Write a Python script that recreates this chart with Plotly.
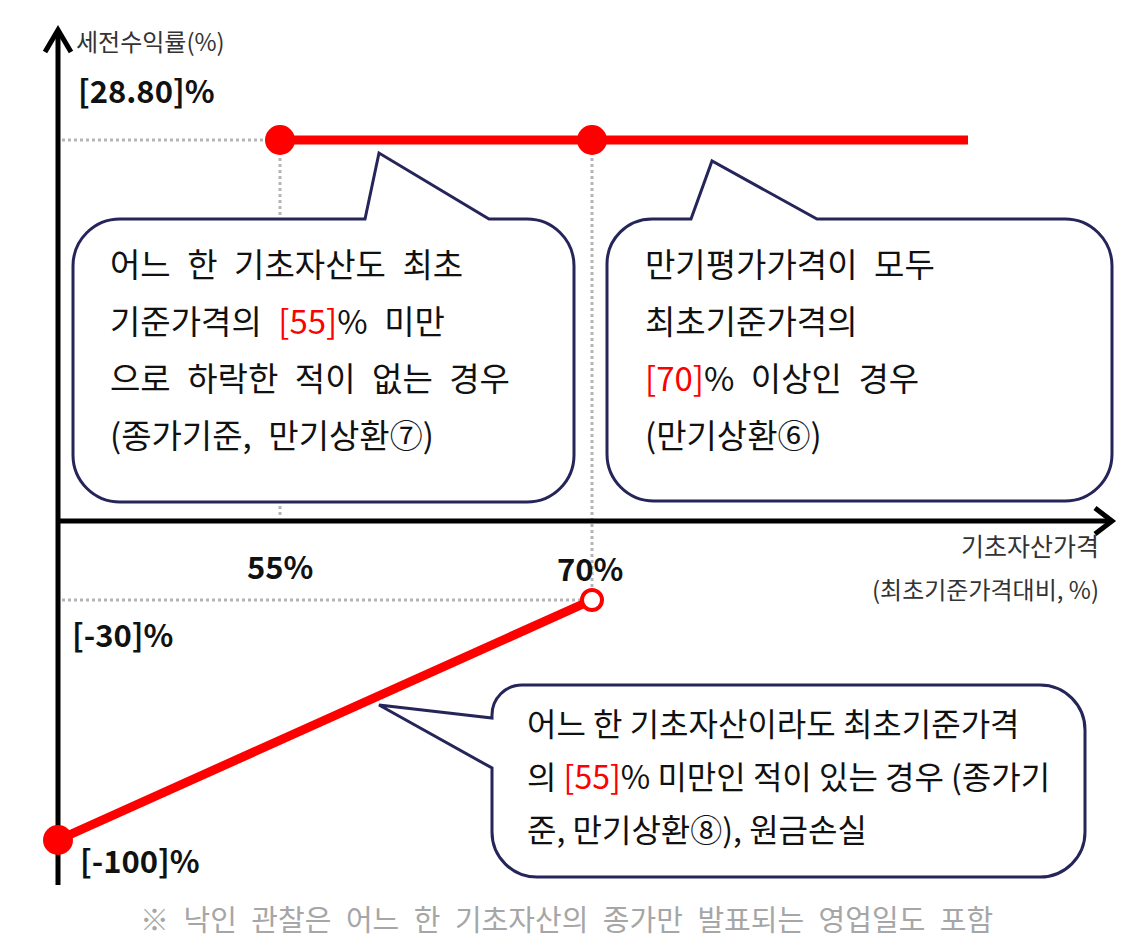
import re

import plotly.graph_objects as go

# schematic payoff diagram: positions are px measured from the axis origin
level_labels = ["55%", "70%"]        # knock-in barrier, maturity barrier
level_x = [222, 534]
gain_label = "[28.80]%"
gain_y = 381
gain_end_x = 910
loss_labels = ["[-30]%", "[-100]%"]
loss_y = [-79, -319]

left_lines = ["어느 한 기초자산도 최초",
              "기준가격의 <span style='color:#ff0000'>[55]</span>% 미만",
              "으로 하락한 적이 없는 경우",
              "(종가기준, 만기상환⑦)"]
right_lines = ["만기평가가격이 모두",
               "최초기준가격의",
               "<span style='color:#ff0000'>[70]</span>% 이상인 경우",
               "(만기상환⑥)"]
bottom_lines = ["어느 한 기초자산이라도 최초기준가격",
                "의 <span style='color:#ff0000'>[55]</span>% 미만인 적이 있는 경우 (종가기",
                "준, 만기상환⑧), 원금손실"]
y_title = "세전수익률(%)"
x_title = ["기초자산가격", "(최초기준가격대비, %)"]
footnote = "※ 낙인 관찰은 어느 한 기초자산의 종가만 발표되는 영업일도 포함"

FONT = "Noto Sans CJK KR"
RED = "#ff0000"
NAVY = "#25255a"
GREY_DOT = "#b5b5b5"
ORIGIN = (58, 521)  # page px where the axes cross
BODY = 8            # default page margin around the plot div


def to_xy(px, py):
    return px - ORIGIN[0], ORIGIN[1] - py


def wide(s):
    # the source font has wide word gaps; leave spaces inside tags alone
    return re.sub(r" (?![^<]*>)", "\u2002", s)


def bubble_path(vertices, closed=True):
    # rounded polygon; vertices are (px, py, corner radius) in page px
    k = 0.5523
    n = len(vertices)
    out = []
    for i, (vx, vy, r) in enumerate(vertices):
        if r == 0:
            x, y = to_xy(vx, vy)
            out.append(f"{'M' if i == 0 else 'L'} {x:.1f},{y:.1f}")
            continue
        pts = []
        for (ox, oy, _) in (vertices[i - 1], vertices[(i + 1) % n]):
            dx, dy = ox - vx, oy - vy
            d = (dx * dx + dy * dy) ** 0.5
            pts.append((vx + dx / d * r, vy + dy / d * r))
        a, b = pts
        c1 = (a[0] + (vx - a[0]) * k, a[1] + (vy - a[1]) * k)
        c2 = (b[0] + (vx - b[0]) * k, b[1] + (vy - b[1]) * k)
        ax, ay = to_xy(*a)
        out.append(f"{'M' if i == 0 else 'L'} {ax:.1f},{ay:.1f}")
        (x1, y1), (x2, y2), (bx, by) = to_xy(*c1), to_xy(*c2), to_xy(*b)
        out.append(f"C {x1:.1f},{y1:.1f} {x2:.1f},{y2:.1f} {bx:.1f},{by:.1f}")
    return " ".join(out) + (" Z" if closed else "")


fig = go.Figure()

# payoff lines and points
fig.add_trace(go.Scatter(x=[level_x[0], gain_end_x], y=[gain_y, gain_y], mode="lines",
                         line=dict(color=RED, width=9)))
fig.add_trace(go.Scatter(x=[0, level_x[1]], y=[loss_y[1], loss_y[0]], mode="lines",
                         line=dict(color=RED, width=9)))
fig.add_trace(go.Scatter(x=level_x + [0], y=[gain_y, gain_y, loss_y[1]], mode="markers",
                         marker=dict(color=RED, size=30, line=dict(width=0))))
fig.add_trace(go.Scatter(x=[level_x[1]], y=[loss_y[0]], mode="markers",
                         marker=dict(color="white", size=20, line=dict(color=RED, width=4))))

shapes = []
# grey dotted guides
dot = dict(color=GREY_DOT, width=3, dash="dot")
shapes.append(dict(type="line", x0=4, x1=level_x[0], y0=gain_y, y1=gain_y, line=dot, layer="below"))
shapes.append(dict(type="line", x0=level_x[0], x1=level_x[0], y0=gain_y, y1=5, line=dot, layer="below"))
shapes.append(dict(type="line", x0=level_x[1], x1=level_x[1], y0=gain_y, y1=loss_y[0], line=dot, layer="below"))
shapes.append(dict(type="line", x0=4, x1=level_x[1], y0=loss_y[0], y1=loss_y[0], line=dot, layer="below"))

# axes with open arrow heads
axis = dict(color="black", width=5)
ytop = to_xy(58, 30)[1]
ybot = to_xy(58, 885)[1]
xend = to_xy(1112, 521)[0]
shapes.append(dict(type="line", x0=0, x1=0, y0=ybot, y1=ytop, line=axis, layer="below"))
shapes.append(dict(type="line", x0=0, x1=xend, y0=0, y1=0, line=axis, layer="below"))
shapes.append(dict(type="path", path=bubble_path([(45, 52, 0), (58, 30, 0), (71, 52, 0)], False),
                   line=axis, layer="below"))
shapes.append(dict(type="path", path=bubble_path([(1095, 508, 0), (1112, 521, 0), (1095, 534, 0)], False),
                   line=axis, layer="below"))

# speech bubbles
bubble_line = dict(color=NAVY, width=3)
left_box = [(73, 219, 47), (365, 219, 0), (379, 153, 0), (489, 219, 0),
            (574, 219, 47), (574, 502, 47), (73, 502, 47)]
right_box = [(607, 219, 45), (691, 219, 0), (712, 161, 0), (817, 219, 0),
             (1112, 219, 47), (1112, 501, 47), (607, 501, 47)]
bottom_box = [(492, 685, 30), (1085, 685, 45), (1085, 877, 45), (492, 877, 45),
              (492, 768, 0), (379, 705, 0), (492, 718, 0)]
for box in (left_box, right_box, bottom_box):
    shapes.append(dict(type="path", path=bubble_path(box), line=bubble_line,
                       fillcolor="white", layer="above"))

annotations = []


def text(px, py, s, size, color="#111111", anchor="left"):
    x, y = to_xy(px, py)
    annotations.append(dict(x=x, y=y, text=s, showarrow=False, xanchor=anchor, yanchor="middle",
                            font=dict(family=FONT, size=size, color=color)))


for i, s in enumerate(left_lines):
    text(108, 263 + i * 57, wide(s), 33)
for i, s in enumerate(right_lines):
    text(643, 263 + i * 57, wide(s), 33)
for i, s in enumerate(bottom_lines):
    text(525, 722 + i * 53, s, 32)

# value labels
text(76, 89, f"<b>{gain_label}</b>", 31)
text(70, 633, f"<b>{loss_labels[0]}</b>", 31)
text(78, 859, f"<b>{loss_labels[1]}</b>", 31)
text(280, 565, f"<b>{level_labels[0]}</b>", 31, anchor="center")
text(590, 567, f"<b>{level_labels[1]}</b>", 31, anchor="center")

# axis titles and footnote
text(74, 40, y_title, 24, "#333333")
text(1101, 545, x_title[0], 25, "#333333", "right")
text(1101, 588, x_title[1], 24, "#333333", "right")
text(566, 918, wide(footnote), 29, "#a6a6a6", "center")

# the plot div sits BODY px inside the page, so shift the ranges to keep page positions
fig.update_layout(
    width=1142, height=949,
    margin=dict(l=0, r=0, t=0, b=0),
    paper_bgcolor="white", plot_bgcolor="white",
    showlegend=False,
    xaxis=dict(range=[BODY - ORIGIN[0], BODY - ORIGIN[0] + 1142], visible=False, fixedrange=True),
    yaxis=dict(range=[ORIGIN[1] - BODY - 949, ORIGIN[1] - BODY], visible=False, fixedrange=True),
    shapes=shapes,
    annotations=annotations,
)

fig.write_html("out.html")
